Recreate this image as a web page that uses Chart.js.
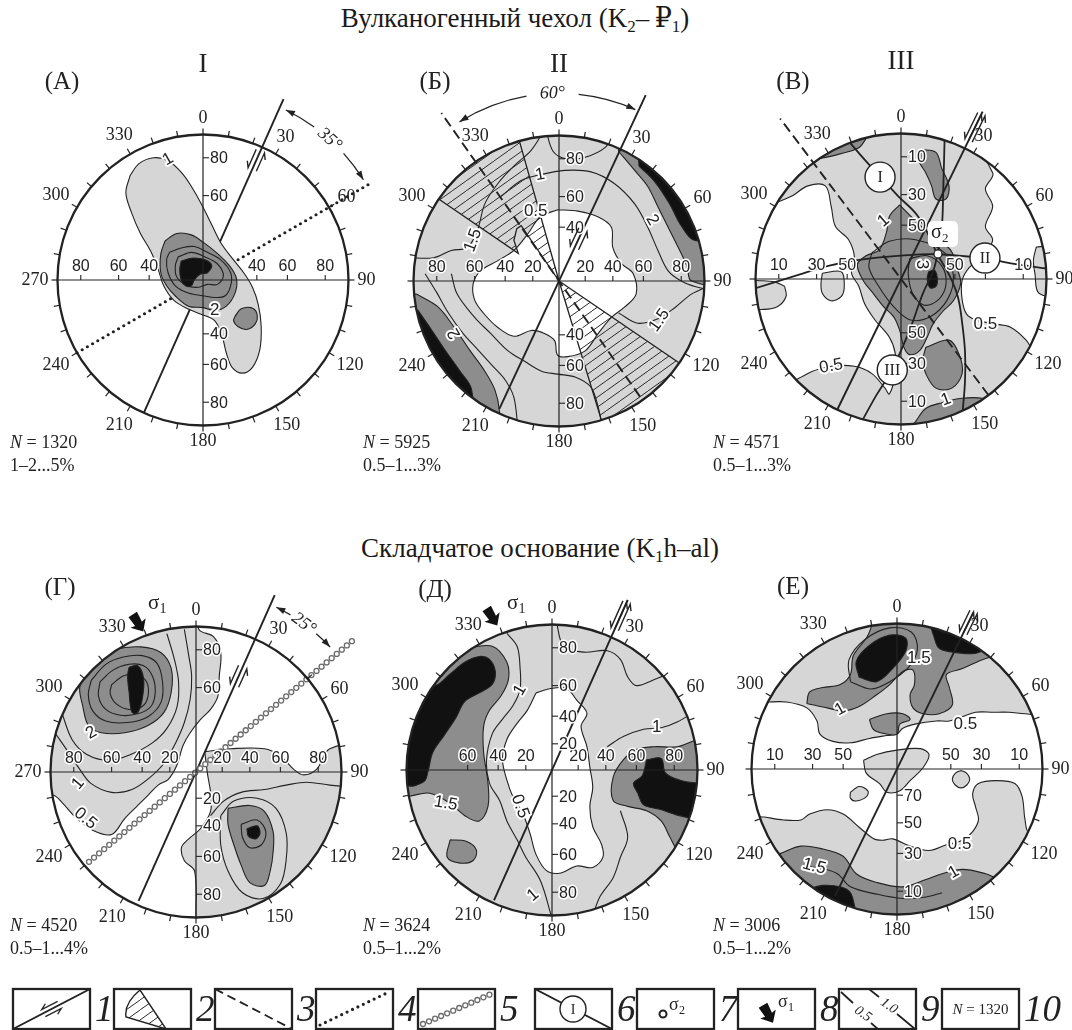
<!DOCTYPE html>
<html lang="ru">
<head>
<meta charset="utf-8">
<title>Стереограммы трещиноватости</title>
<script src="https://cdn.jsdelivr.net/npm/chart.js@4.4.1/dist/chart.umd.min.js"></script>
<style>
  html, body { margin: 0; padding: 0; background: #fff; }
  body { width: 1072px; height: 1030px; position: relative; overflow: hidden;
         font-family: "Liberation Serif", "DejaVu Serif", serif; color: #1a1a1a; }
  .ttl { position: absolute; font-size: 27px; line-height: 32px; white-space: nowrap; transform: translateX(-50%); }
  .ttl sub { font-size: 17px; line-height: 0; vertical-align: -5px; }
  canvas { position: absolute; }
</style>
</head>
<body>
<div class="ttl" style="left:515px; top:2px">Вулканогенный чехол (K<sub>2</sub>–&#8201;₽<sub>1</sub>)</div>
<div class="ttl" style="left:540px; top:532px">Складчатое основание (K<sub>1</sub>h–al)</div>
<canvas id="pA" width="390" height="440" style="left:-2px; top:40px"></canvas>
<canvas id="pB" width="390" height="440" style="left:354px; top:41px"></canvas>
<canvas id="pV" width="390" height="440" style="left:696px; top:39px"></canvas>
<canvas id="pG" width="390" height="440" style="left:-9px; top:532px"></canvas>
<canvas id="pD" width="390" height="440" style="left:347px; top:530px"></canvas>
<canvas id="pE" width="390" height="440" style="left:692px; top:529px"></canvas>
<canvas id="legend" width="1072" height="50" style="left:0; top:980px"></canvas>
<script>
const INK = '#222';
const LIGHT = '#d6d6d6';
const MID = '#8d8d8d';
const DARK = '#111';
const R = 100;          // net radius in data units
const PX = 1.455;       // pixels per data unit

// dip ring positions (percent of radius)
const ringPos = { 10: 84, 20: 18, 30: 58, 40: 37, 50: 37, 60: 58, 70: 18, 80: 84 };

// ─── (А) ─────────────────────────────────────────────────────────────────────
const A_fault = [24, -100, 136];          // azimuth, from, to
const A_dots = [60, -100, 131];
const A_c1 = [[-50,72],[-44,80],[-34,84],[-24,82],[-14,73],[-6,61],[0,50],[6,38],[12,26],[20,15],[28,5],[34,-5],[38,-17],[40,-32],[39,-48],[34,-60],[27,-64],[20,-60],[16,-50],[13,-38],[8,-28],[0,-24],[-10,-20],[-20,-14],[-27,-4],[-31,8],[-36,20],[-43,32],[-49,46],[-53,60]];
const A_c2 = [[-26,27],[-18,32],[-8,31],[0,26],[9,19],[18,10],[23,1],[22,-9],[16,-18],[8,-21],[0,-19],[-10,-18],[-19,-11],[-25,-4],[-29,5],[-29,18]];
const A_c2b = [[22,-25],[26,-20],[33,-19],[37,-23],[36,-30],[30,-34],[24,-32],[21,-28]];
const A_c3 = [[-23,19],[-15,22],[-6,23],[3,19],[12,14],[19,5],[19,-4],[15,-11],[8,-12],[1,-11],[-10,-9],[-19,-4],[-24,5],[-25,14]];
const A_c4 = [[-17,16],[-8,19],[1,16],[10,11],[14,3],[10,-3],[3,-3],[-3,-5],[-11,-4],[-18,2],[-19,10]];
const A_c5 = [[-15,13],[-8,15],[1,14],[6,10],[3,5],[-2,4],[-6,0],[-8,-4],[-12,-4],[-15,0],[-16,7]];

// ─── (Б) ─────────────────────────────────────────────────────────────────────
const B_fault = [25, -97, 141];
const B_dash = [325, -97, 141];
const B_hole = [[-1,49],[13,48],[27,44],[36,37],[37,23],[43,12],[51,5],[53,-9],[45,-18],[36,-25],[27,-36],[18,-48],[6,-52],[-1,-51],[-3,-41],[-10,-36],[-19,-34],[-31,-38],[-42,-32],[-52,-22],[-58,-13],[-59,-2],[-54,7],[-42,14],[-31,21],[-21,33],[-13,44]];
const B_c2a = [[41,89],[52,76],[61,65],[68,51],[75,37],[82,23],[88,10],[91,0],[115,0],[115,120],[41,120]];
const B_c3a = [[55,79],[66,68],[76,53],[84,38],[93,28],[115,30],[115,110],[55,110]];
const B_c2b = [[-98,-9],[-83,-18],[-72,-32],[-61,-48],[-51,-62],[-44,-75],[-41,-89],[-41,-120],[-120,-120],[-120,-9]];
const B_c3b = [[-97,-20],[-88,-33],[-78,-48],[-68,-62],[-60,-75],[-60,-120],[-120,-120],[-120,-20]];
const B_wedgeNW = [[0,0],[-30,106],[-91,62],[-28,19],[-31,28],[-29,36],[-26,38]];
const B_wedgeSE = [[0,0],[91,-62],[32,-105]];
const B_l1 = [[-40,58],[-26,69],[-13,73],[4,76],[22,75],[38,67],[52,53],[61,37],[68,21],[75,7],[84,0],[94,-4],[104,-6]];
const B_l2 = [[41,-22],[54,-29],[68,-26],[80,-18],[91,-9],[104,-3]];
const B_l3 = [[-74,5],[-70,-9],[-58,-25],[-47,-36],[-35,-48],[-24,-55],[-12,-62],[-1,-64],[11,-66],[22,-73],[27,-87],[30,-102]];
const B_l4 = [[-104,16],[-86,16],[-74,21],[-63,23],[-56,35],[-51,53],[-42,67],[-31,79],[-19,90],[-10,104]];
const B_l5 = [[-9,104],[-4,89],[5,84],[18,85],[32,92],[38,102]];
const B_l6 = [[-92,5],[-84,-8],[-76,-22],[-66,-36],[-56,-47],[-46,-58],[-37,-68],[-31,-80],[-28,-104]];

// ─── (В) ─────────────────────────────────────────────────────────────────────
const V_fault = [26, -100, 128];
const V_dash = [323, -100, 138];
const V_c05a = [[-87,52],[-105,60],[-60,112],[30,115],[63,73],[58,62],[63,50],[58,36],[63,27],[58,18],[54,13],[47,8],[42,-1],[42,-14],[45,-24],[51,-28],[65,-31],[75,-33],[86,-42],[93,-52],[112,-60],[60,-112],[-60,-112],[-76,-75],[-64,-65],[-48,-60],[-32,-60],[-20,-65],[-11,-75],[-8,-79],[-4,-65],[-4,-51],[-8,-40],[-18,-28],[-25,-17],[-29,-5],[-34,4],[-32,15],[-36,27],[-45,36],[-48,50],[-52,64],[-64,64],[-75,57]];
const V_c05b = [[-80,-5],[-79,-12],[-85,-19],[-96,-21],[-112,-21],[-112,0],[-99,-1],[-87,-2]];
const V_c05c = [[-54,4],[-41,5],[-39,-5],[-41,-12],[-48,-15],[-54,-10],[-55,-3]];
const V_c05d = [[93,22],[91,13],[92,4],[95,-10],[112,-10],[112,22]];
const V_c1a = [[-1,51],[10,40],[22,29],[34,20],[39,6],[41,-3],[36,-15],[29,-22],[22,-31],[18,-40],[13,-49],[6,-52],[2,-47],[-1,-35],[-5,-26],[-12,-19],[-19,-10],[-26,-1],[-30,10],[-24,16],[-15,20],[-10,32],[-8,43]];
const V_c1b = [[17,-47],[33,-42],[40,-52],[42,-65],[35,-75],[24,-75],[17,-65],[15,-56]];
const V_c1c = [[10,-98],[17,-89],[28,-85],[42,-82],[56,-82],[61,-85],[72,-112],[0,-112]];
const V_c1d = [[14,89],[24,87],[28,76],[33,64],[31,55],[24,55],[21,64],[17,73],[12,82]];
const V_c1e = [[-60,82],[-42,86],[-27,92],[-20,115],[-72,96]];
const V_c3 = [[19,5],[23,6],[25,0],[24,-5],[20,-6],[18,0]];
const V_l1 = [[6,14],[18,16],[28,9],[31,-3],[26,-14],[16,-18],[8,-10],[5,3]];
const V_l2 = [[-20,18],[-8,26],[10,27],[30,18],[36,2],[32,-14],[20,-26],[6,-28],[-6,-18],[-16,-4],[-22,8]];
const V_gcI = [[-37,96],[-25,82],[-14,70],[-2,57],[11,44],[19,30],[25,17],[33,3],[39,-12],[42,-30],[44,-50],[44,-70],[42,-95]];
const V_gcII = [[-102,-7],[-70,3],[-50,9],[-30,13],[0,16],[25,17],[58,14],[80,10],[102,7]];
const V_gcIII = [[-27,-98],[-17,-80],[-6,-62],[6,-35],[15,-10],[22,5],[25,17],[28,35],[29,60],[30,98]];
const V_sigma2 = [25.4, 17.2];

// ─── (Г) ─────────────────────────────────────────────────────────────────────
const G_fault = [24, -97, 133];
const G_beads = [50, -96, 141];
const G_c05a = [[0,115],[2,98],[12,93],[17,82],[16,66],[15,52],[10,43],[3,36],[-4,27],[-9,18],[-13,5],[-19,-5],[-26,-9],[-33,-16],[-40,-23],[-49,-32],[-58,-43],[-71,-40],[-83,-31],[-92,-21],[-98,-16],[-115,-16],[-115,115]];
const G_c05b = [[6,14],[24,16],[47,16],[58,11],[67,2],[74,-2],[83,2],[92,16],[115,16],[115,-115],[0,-115],[0,-98],[-1,-68],[-8,-61],[-10,-52],[-5,-46],[3,-39],[10,-27],[10,-14],[8,-2]];
const G_l1 = [[-97,27],[-88,14],[-80,2],[-72,-8],[-58,-14],[-44,-12],[-32,-4],[-22,6],[-14,20],[-8,34],[-4,50],[-3,66],[-5,80],[-8,98]];
const G_l15 = [[-92,40],[-85,22],[-75,12],[-60,8],[-45,12],[-30,20],[-20,30],[-13,45],[-12,62],[-15,78],[-20,95]];
const G_c2 = [[-78,66],[-69,77],[-56,84],[-38,86],[-24,82],[-17,71],[-17,55],[-22,41],[-33,32],[-49,27],[-65,27],[-74,32],[-78,46],[-80,57]];
const G_l25 = [[-72,63],[-62,74],[-50,79],[-37,80],[-27,75],[-23,62],[-24,48],[-33,38],[-47,34],[-62,35],[-71,42],[-74,53]];
const G_l3 = [[-66,62],[-57,70],[-46,74],[-36,73],[-30,66],[-28,55],[-31,45],[-40,40],[-52,39],[-62,43],[-67,52]];
const G_l35 = [[-58,60],[-50,66],[-41,67],[-34,62],[-33,52],[-37,45],[-46,43],[-55,47],[-59,54]];
const G_c4 = [[-46,72],[-40,73],[-36,64],[-37,50],[-40,41],[-44,41],[-46,55],[-47,66]];
const G_se1 = [[17,-30],[26,-20],[42,-18],[55,-25],[62,-42],[62,-60],[58,-77],[46,-87],[32,-83],[22,-68],[17,-50]];
const G_se2 = [[22,-25],[37,-23],[47,-27],[53,-41],[53,-55],[51,-68],[47,-78],[37,-76],[31,-64],[26,-50],[22,-36]];
const G_se3 = [[31,-36],[42,-33],[48,-41],[45,-50],[37,-52],[32,-45]];
const G_se4 = [[35,-39],[42,-37],[44,-42],[41,-46],[36,-44]];
const G_l1e = [[10,-30],[19,-20],[31,-14],[47,-12],[62,-9],[76,-7],[92,-9],[104,-10]];

// ─── (Д) ─────────────────────────────────────────────────────────────────────
const D_fault = [24, -98, 128];
const D_hole = [[-11,53],[-1,56],[10,56],[17,48],[24,39],[20,30],[24,16],[26,2],[28,-12],[26,-25],[28,-39],[34,-51],[35,-60],[28,-67],[17,-66],[5,-71],[-4,-69],[-11,-58],[-15,-44],[-20,-30],[-27,-18],[-31,-7],[-34,7],[-31,21],[-24,32],[-17,41]];
const D_c1a = [[-57,84],[-41,85],[-31,74],[-30,62],[-35,51],[-43,41],[-47,30],[-47,12],[-44,-9],[-44,-25],[-50,-35],[-59,-32],[-70,-23],[-84,-16],[-98,-18],[-115,-20],[-115,70],[-65,100]];
const D_c2a = [[-100,55],[-80,58],[-70,66],[-60,74],[-50,78],[-43,76],[-39,68],[-41,59],[-50,53],[-60,47],[-66,36],[-74,24],[-82,12],[-85,0],[-88,-8],[-100,-10],[-112,20]];
const D_c1b = [[-70,-48],[-59,-49],[-52,-55],[-54,-62],[-63,-64],[-72,-60]];
const D_c1c = [[97,20],[86,16],[70,16],[58,14],[49,7],[42,-5],[42,-21],[52,-25],[65,-28],[75,-35],[81,-46],[86,-55],[100,-70],[115,0],[110,20]];
const D_c2b = [[65,7],[75,8],[78,-2],[88,-7],[100,-9],[115,-10],[115,-38],[95,-33],[86,-31],[74,-27],[63,-24],[59,-16],[56,-9],[62,-4]];
const D_l1 = [[-31,94],[-24,85],[-22,71],[-22,55],[-27,44],[-34,35],[-41,25],[-45,7],[-43,-9],[-36,-21],[-31,-35],[-24,-48],[-18,-60],[-8,-76],[0,-102]];
const D_l2 = [[3,102],[8,85],[22,81],[38,82],[47,76],[52,64],[58,58],[70,62],[81,67],[92,74]];
const D_l3 = [[38,16],[49,23],[63,28],[75,29],[86,33],[98,40]];
const D_l4 = [[47,-28],[52,-46],[47,-60],[42,-74],[33,-87],[28,-100]];

// ─── (Е) ─────────────────────────────────────────────────────────────────────
const E_fault = [26, -97, 120];
const E_c05a = [[-90,46],[-76,46],[-62,42],[-55,33],[-53,24],[-44,19],[-32,18],[-19,21],[-7,23],[0,24],[4,28],[13,31],[27,33],[36,33],[45,36],[54,39],[66,39],[77,39],[88,38],[115,38],[115,115],[-115,115],[-115,46]];
const E_c05b = [[-23,6],[-14,10],[0,13],[16,14],[22,10],[18,1],[9,-8],[2,-15],[-7,-16],[-12,-10],[-21,-3]];
const E_c05c = [[-32,-16],[-26,-12],[-20,-15],[-21,-19],[-28,-22],[-32,-20]];
const E_c05d = [[44,-1],[48,-3],[50,-7],[48,-11],[44,-13],[40,-11],[38,-7],[40,-3]];
const E_c05e = [[-91,-33],[-78,-35],[-66,-35],[-60,-31],[-48,-28],[-37,-31],[-26,-40],[-16,-48],[-10,-49],[-3,-48],[9,-53],[22,-56],[34,-52],[45,-49],[52,-43],[56,-35],[54,-26],[52,-17],[56,-10],[68,-8],[81,-10],[86,-19],[88,-35],[91,-44],[115,-45],[115,-115],[-115,-115],[-115,-33]];
const E_c1a = [[-62,45],[-60,53],[-51,56],[-39,58],[-32,65],[-30,78],[-21,90],[-8,112],[80,80],[61,76],[45,69],[34,65],[36,56],[38,44],[29,38],[18,38],[11,42],[9,51],[12,58],[11,68],[4,67],[-5,58],[-14,51],[-26,43],[-37,40],[-48,42]];
const E_c1b = [[-19,34],[-7,38],[4,38],[9,34],[2,31],[0,24],[-7,24],[-16,27]];
const E_c1c = [[-80,-58],[-66,-53],[-51,-55],[-37,-60],[-28,-72],[-14,-78],[4,-81],[20,-76],[31,-72],[45,-69],[61,-72],[68,-75],[80,-80],[0,-115],[-90,-70]];
const E_l15a = [[-32,60],[-33,75],[-22,89],[-5,97],[10,94],[14,82],[8,70],[-5,60],[-18,55]];
const E_l15b = [[-66,-67],[-53,-68],[-41,-72],[-32,-81],[-14,-86],[4,-89],[20,-88],[31,-85]];
const E_c2a = [[-26,63],[-28,74],[-19,85],[-5,92],[6,90],[6,81],[-3,69],[-14,60]];
const E_c2b = [[25,92],[29,83],[41,80],[56,80],[72,92],[40,112],[20,112]];
const E_c2c = [[-62,-83],[-51,-80],[-39,-81],[-32,-85],[-28,-98],[-20,-112],[-70,-90]];

// ─── Helpers ─────────────────────────────────────────────────────────────────
function makeHatch() {
  const c = document.createElement('canvas');
  c.width = 14; c.height = 10;
  const g = c.getContext('2d');
  g.strokeStyle = '#2a2a2a'; g.lineWidth = 1;
  g.beginPath(); g.moveTo(-14, 20); g.lineTo(28, -10); g.stroke();
  return g.createPattern(c, 'repeat');
}
const HATCH = makeHatch();

const BASE = { showLine: true, pointRadius: 0, pointHoverRadius: 0, tension: 0.35 };
function P(arr) { return arr.map(p => ({ x: p[0], y: p[1] })); }
function ring(arr) { const d = P(arr); d.push({ x: arr[0][0], y: arr[0][1] }); return d; }
function seg(line) {
  const a = line[0] * Math.PI / 180;
  return [1, 2].map(k => ({ x: line[k] * Math.sin(a), y: line[k] * Math.cos(a) }));
}
function area(arr, color) {
  return { ...BASE, data: ring(arr), fill: 'shape', backgroundColor: color, borderColor: INK, borderWidth: 1.1 };
}
function contour(arr, closed) {
  return { ...BASE, data: closed ? ring(arr) : P(arr), fill: false, borderColor: INK, borderWidth: 1.1 };
}
function trace(arr) {
  return { ...BASE, tension: 0.4, data: P(arr), fill: false, borderColor: INK, borderWidth: 1.8 };
}
function hatched(arr) {
  return { ...BASE, tension: 0, data: ring(arr), fill: 'shape', backgroundColor: HATCH, borderColor: INK, borderWidth: 1.3 };
}
function fault(line, kind) {
  const ds = { ...BASE, tension: 0, data: seg(line), fill: false, noClip: true, borderColor: INK, borderWidth: 1.9 };
  if (kind === 'dash') ds.borderDash = [10, 5];
  if (kind === 'dot') { ds.borderDash = [0, 6]; ds.borderCapStyle = 'round'; ds.borderWidth = 3.2; }
  if (kind === 'beads') { ds.beads = true; ds.borderColor = 'rgba(0,0,0,0)'; }
  return ds;
}

function net(chart) {
  const xs = chart.scales.x, ys = chart.scales.y;
  const cx = xs.getPixelForValue(0), cy = ys.getPixelForValue(0);
  const rp = xs.getPixelForValue(R) - cx;
  const at = (x, y) => [xs.getPixelForValue(x), ys.getPixelForValue(y)];
  const pol = (az, r) => { const a = az * Math.PI / 180; return at(r * Math.sin(a), r * Math.cos(a)); };
  return { cx, cy, rp, at, pol };
}

function txt(ctx, s, x, y, font, o = {}) {
  ctx.save();
  ctx.translate(x, y);
  if (o.rot) ctx.rotate(o.rot * Math.PI / 180);
  ctx.font = font;
  ctx.textAlign = o.align || 'center';
  ctx.textBaseline = o.base || 'middle';
  if (o.halo) { ctx.lineJoin = 'round'; ctx.lineWidth = o.halo; ctx.strokeStyle = '#fff'; ctx.strokeText(s, 0, 0); }
  ctx.fillStyle = o.color || INK;
  ctx.fillText(s, 0, 0);
  ctx.restore();
}

const SERIF = '"Liberation Serif", "DejaVu Serif", serif';
const SANS = '"Liberation Sans", Arial, sans-serif';

// ─── Net frame, rings, labels ────────────────────────────────────────────────
function frame(chart, p) {
  const ctx = chart.ctx, n = net(chart);
  ctx.save();
  ctx.strokeStyle = INK;
  ctx.lineWidth = 1.2;
  ctx.beginPath();
  ctx.moveTo(n.cx - n.rp, n.cy); ctx.lineTo(n.cx + n.rp, n.cy);
  ctx.moveTo(n.cx, n.cy - n.rp); ctx.lineTo(n.cx, n.cy + n.rp);
  ctx.stroke();
  ctx.lineWidth = 2.3;
  ctx.beginPath(); ctx.arc(n.cx, n.cy, n.rp, 0, 2 * Math.PI); ctx.stroke();
  ctx.lineWidth = 1.2;
  for (let az = 0; az < 360; az += 10) {
    const a = az * Math.PI / 180, s = Math.sin(a), c = -Math.cos(a);
    ctx.beginPath();
    ctx.moveTo(n.cx + s * n.rp, n.cy + c * n.rp);
    ctx.lineTo(n.cx + s * (n.rp + 6), n.cy + c * (n.rp + 6));
    ctx.stroke();
  }
  ctx.restore();

  // the left-hand 270 is printed only on the nets of the first column
  const f = '18px ' + SERIF;
  ctx.font = f;
  for (let az = 0; az < 360; az += 30) {
    if (az === 270 && !p.west) continue;
    const s = String(az), w = ctx.measureText(s).width;
    const a = az * Math.PI / 180, sn = Math.sin(a), cs = Math.cos(a);
    const off = n.rp + 9 + Math.abs(sn) * w / 2 + Math.abs(cs) * 7;
    txt(ctx, s, n.cx + sn * off, n.cy - cs * off, f);
  }

  // dip rings along the cross
  const dir = { left: [-1, 0], right: [1, 0], top: [0, 1], bottom: [0, -1] };
  ctx.save(); ctx.strokeStyle = INK; ctx.lineWidth = 1.1;
  for (const side in p.axes) {
    for (const v of p.axes[side]) {
      const r = ringPos[v], [dx, dy] = dir[side], [x, y] = n.at(dx * r, dy * r);
      ctx.beginPath();
      if (dy === 0) { ctx.moveTo(x, y); ctx.lineTo(x, y - 5); ctx.stroke(); txt(ctx, String(v), x, y - 13, '16px ' + SANS, { halo: 3 }); }
      else { ctx.moveTo(x, y); ctx.lineTo(x + 6, y); ctx.stroke(); txt(ctx, String(v), x + 7, y + 1, '16px ' + SANS, { align: 'left', halo: 3 }); }
    }
  }
  ctx.restore();

  for (const [s, x, y, rot] of p.labels) {
    const [px, py] = n.at(x, y);
    txt(ctx, s, px, py, '17px ' + SANS, { rot, halo: 4 });
  }

  txt(ctx, p.letter, n.cx + p.letterAt[0], n.cy + p.letterAt[1], '25px ' + SERIF);
  if (p.roman) txt(ctx, p.roman, n.cx, n.cy + p.romanDy, '27px ' + SERIF);
  const fx = n.cx + p.footAt[0], fy = n.cy + p.footAt[1];
  ctx.font = 'italic 18px ' + SERIF;
  const wN = ctx.measureText('N').width;
  txt(ctx, 'N', fx, fy, 'italic 18px ' + SERIF, { align: 'left', base: 'alphabetic' });
  txt(ctx, ' = ' + p.n, fx + wN, fy, '18px ' + SERIF, { align: 'left', base: 'alphabetic' });
  txt(ctx, p.pct, fx, fy + 23, '18px ' + SERIF, { align: 'left', base: 'alphabetic' });
}

// ─── Symbols ─────────────────────────────────────────────────────────────────
function tip(ctx, n, rr, az, d) {
  const a = az * Math.PI / 180;
  const tx = n.cx + rr * Math.sin(a), ty = n.cy - rr * Math.cos(a);
  const ux = Math.cos(a) * d, uy = Math.sin(a) * d;
  const bx = tx - ux * 9, by = ty - uy * 9;
  ctx.beginPath(); ctx.moveTo(tx, ty);
  ctx.lineTo(bx - uy * 3.2, by + ux * 3.2); ctx.lineTo(bx + uy * 3.2, by - ux * 3.2);
  ctx.closePath(); ctx.fill();
}

function arcArrow(ch, r, a1, a2, g1, g2, label, la) {
  const ctx = ch.ctx, n = net(ch), rr = n.rp * r / R, rad = d => (d - 90) * Math.PI / 180;
  ctx.save(); ctx.strokeStyle = INK; ctx.fillStyle = INK; ctx.lineWidth = 1.3;
  ctx.beginPath(); ctx.arc(n.cx, n.cy, rr, rad(a1), rad(g1)); ctx.stroke();
  ctx.beginPath(); ctx.arc(n.cx, n.cy, rr, rad(g2), rad(a2)); ctx.stroke();
  tip(ctx, n, rr, a1, -1); tip(ctx, n, rr, a2, 1);
  ctx.restore();
  const [x, y] = n.pol(la, r);
  txt(ctx, label, x, y, 'italic 18px ' + SERIF, { rot: la });
}

function halfArrow(ctx, x, y, ux, uy, nx, ny, len, d, s) {
  const tx = x + ux * len / 2 * d, ty = y + uy * len / 2 * d;
  ctx.beginPath();
  ctx.moveTo(x - ux * len / 2 * d, y - uy * len / 2 * d); ctx.lineTo(tx, ty);
  ctx.lineTo(tx - ux * 6 * d + nx * 3.5 * s, ty - uy * 6 * d + ny * 3.5 * s);
  ctx.stroke();
}

function shear(ch, az, r) {
  const ctx = ch.ctx, n = net(ch), [x, y] = n.pol(az, r), a = az * Math.PI / 180;
  const ux = Math.sin(a), uy = -Math.cos(a), nx = -uy, ny = ux;
  ctx.save(); ctx.strokeStyle = INK; ctx.lineWidth = 1.4;
  halfArrow(ctx, x - nx * 4.5, y - ny * 4.5, ux, uy, nx, ny, 20, -1, -1);
  halfArrow(ctx, x + nx * 4.5, y + ny * 4.5, ux, uy, nx, ny, 20, 1, 1);
  ctx.restore();
}

function triple(ch, az, r1, r2) {
  const ctx = ch.ctx, n = net(ch), a = az * Math.PI / 180;
  const [x1, y1] = n.pol(az, r1), [x2, y2] = n.pol(az, r2);
  const mx = (x1 + x2) / 2, my = (y1 + y2) / 2, len = Math.hypot(x2 - x1, y2 - y1);
  const ux = Math.sin(a), uy = -Math.cos(a), nx = -uy, ny = ux;
  ctx.save(); ctx.strokeStyle = INK; ctx.lineWidth = 1.4;
  halfArrow(ctx, mx - nx * 4, my - ny * 4, ux, uy, nx, ny, len, -1, -1);
  halfArrow(ctx, mx, my, ux, uy, nx, ny, len, 1, 1);
  halfArrow(ctx, mx + nx * 4, my + ny * 4, ux, uy, nx, ny, len, 1, 1);
  ctx.restore();
}

function blockArrow(ctx, x, y, ang) {
  ctx.save(); ctx.translate(x, y); ctx.rotate(ang * Math.PI / 180); ctx.fillStyle = DARK;
  ctx.beginPath();
  ctx.moveTo(10, 0); ctx.lineTo(0, -9); ctx.lineTo(1, -4); ctx.lineTo(-10, -5);
  ctx.lineTo(-10, 5); ctx.lineTo(1, 4); ctx.lineTo(0, 9); ctx.closePath(); ctx.fill();
  ctx.restore();
}

function sigma(ctx, x, y, k, size = 21) {
  txt(ctx, 'σ', x, y, size + 'px ' + SERIF, { align: 'left' });
  txt(ctx, k, x + size * 0.55, y + size * 0.3, Math.round(size * 0.65) + 'px ' + SERIF, { align: 'left' });
}

function sigma1(ch, ax, ay, lx, ly) {
  const n = net(ch);
  blockArrow(ch.ctx, n.cx + ax, n.cy + ay, 58);
  sigma(ch.ctx, n.cx + lx, n.cy + ly, '1');
}

function marker(ch, x, y, s) {
  const ctx = ch.ctx, [px, py] = net(ch).at(x, y);
  ctx.save(); ctx.fillStyle = '#fff'; ctx.strokeStyle = INK; ctx.lineWidth = 1.4;
  ctx.beginPath(); ctx.arc(px, py, 15, 0, 2 * Math.PI); ctx.fill(); ctx.stroke(); ctx.restore();
  txt(ctx, s, px, py + 1, '16px ' + SERIF);
}

function sigma2(ch, pt) {
  const ctx = ch.ctx, [px, py] = net(ch).at(pt[0], pt[1]);
  ctx.save(); ctx.fillStyle = '#fff';
  ctx.beginPath(); ctx.roundRect(px - 10, py - 33, 30, 26, 5); ctx.fill();
  ctx.strokeStyle = INK; ctx.lineWidth = 1.3;
  ctx.beginPath(); ctx.arc(px, py, 4, 0, 2 * Math.PI); ctx.fill(); ctx.stroke();
  ctx.restore();
  sigma(ctx, px - 7, py - 21, '2', 20);
}

function beads(chart, idx) {
  const ctx = chart.ctx, pts = chart.getDatasetMeta(idx).data;
  const a = pts[0], b = pts[1], len = Math.hypot(b.x - a.x, b.y - a.y);
  ctx.save(); ctx.strokeStyle = '#6a6a6a'; ctx.fillStyle = '#fff'; ctx.lineWidth = 1.3;
  for (let t = 0; t <= len; t += 6.6) {
    ctx.beginPath();
    ctx.arc(a.x + (b.x - a.x) * t / len, a.y + (b.y - a.y) * t / len, 2.5, 0, 2 * Math.PI);
    ctx.fill(); ctx.stroke();
  }
  ctx.restore();
}

// ─── Panels ──────────────────────────────────────────────────────────────────
const panels = [
  { id: 'pA', letter: '(А)', roman: 'I', n: '1320', pct: '1–2...5%', west: true,
    letterAt: [-141, -198], romanDy: -215, footAt: [-193, 168],
    axes: { left: [80, 60, 40], right: [40, 60, 80], top: [80, 60], bottom: [40, 60, 80] },
    layers: () => [fault(A_fault), fault(A_dots, 'dot'), area(A_c1, LIGHT), area(A_c2, MID), area(A_c2b, MID),
                   area(A_c3, MID), area(A_c4, MID), area(A_c5, DARK)],
    labels: [['1', -24, 83, -30], ['2', 8, -21, 0]],
    deco(ch) { shear(ch, 24, 90); arcArrow(ch, 130, 26, 58, 36, 48, '35°', 42); } },
  { id: 'pB', letter: '(Б)', roman: 'II', n: '5925', pct: '0.5–1...3%', base: LIGHT,
    letterAt: [-124, -199], romanDy: -216, footAt: [-196, 167],
    axes: { left: [80, 60, 40, 20], right: [20, 40, 60, 80], top: [80, 60, 40], bottom: [40, 60, 80] },
    layers: () => [area(B_hole, '#fff'), area(B_c2a, MID), area(B_c3a, DARK), area(B_c2b, MID), area(B_c3b, DARK),
                   contour(B_l1), contour(B_l2), contour(B_l3), contour(B_l4), contour(B_l5), contour(B_l6),
                   hatched(B_wedgeNW), hatched(B_wedgeSE), fault(B_fault), fault(B_dash, 'dash')],
    labels: [['1', -13, 73, -10], ['0.5', -16, 48, 0], ['1.5', -59, 28, -70], ['2', 64, 42, 60],
             ['2', -72, -36, -120], ['1.5', 69, -27, -55]],
    deco(ch) { shear(ch, 25, 32); arcArrow(ch, 129, -32, 24, -10, 6, '60°', -2); } },
  { id: 'pV', letter: '(В)', roman: 'III', n: '4571', pct: '0.5–1...3%',
    letterAt: [-108, -197], romanDy: -217, footAt: [-188, 169],
    axes: { left: [10, 30, 50], right: [50, 30, 10], top: [10, 30, 50], bottom: [50, 30, 10] },
    layers: () => [area(V_c05a, LIGHT), area(V_c05b, LIGHT), area(V_c05c, LIGHT), area(V_c05d, LIGHT),
                   area(V_c1a, MID), area(V_c1b, MID), area(V_c1c, MID), area(V_c1d, MID), area(V_c1e, MID),
                   contour(V_l2, true), contour(V_l1, true), area(V_c3, DARK),
                   trace(V_gcI), trace(V_gcII), trace(V_gcIII), fault(V_fault), fault(V_dash, 'dash')],
    labels: [['1', -12, 40, -40], ['3', 14.5, 10, 90], ['0.5', 58, -31, 0], ['0.5', -48, -60, -10], ['1', 31, -83, -20]],
    deco(ch) {
      triple(ch, 26, 106, 126);
      marker(ch, -14.4, 70, 'I'); marker(ch, 57.7, 14.4, 'II'); marker(ch, -6, -62.5, 'III');
      sigma2(ch, V_sigma2);
    } },
  { id: 'pG', letter: '(Г)', n: '4520', pct: '0.5–1...4%', west: true,
    letterAt: [-136, -184], footAt: [-186, 159],
    axes: { left: [80, 60, 40, 20], right: [20, 40, 60, 80], top: [80, 60], bottom: [20, 40, 60, 80] },
    layers: () => [area(G_c05a, LIGHT), area(G_c05b, LIGHT), contour(G_l1), contour(G_l15), area(G_c2, MID),
                   contour(G_l25, true), contour(G_l3, true), contour(G_l35, true), area(G_c4, DARK),
                   contour(G_se1, true), contour(G_l1e), area(G_se2, MID), contour(G_se3, true), area(G_se4, DARK),
                   fault(G_fault), fault(G_beads, 'beads')],
    labels: [['2', -72, 27, -30], ['1', -81, -8, -50], ['0.5', -76, -32, 40]],
    deco(ch) { shear(ch, 24, 72); arcArrow(ch, 126, 26, 47, 31, 41, '25°', 36); sigma1(ch, -58, -149, -48, -169); } },
  { id: 'pD', letter: '(Д)', n: '3624', pct: '0.5–1...2%', base: LIGHT,
    letterAt: [-117, -180], footAt: [-189, 161],
    axes: { left: [60, 40, 20], right: [20, 40, 60, 80], top: [80, 60, 40, 20], bottom: [20, 40, 60, 80] },
    layers: () => [area(D_hole, '#fff'), area(D_c1a, MID), area(D_c2a, DARK), area(D_c1b, MID), area(D_c1c, MID),
                   area(D_c2b, DARK), contour(D_l1), contour(D_l2), contour(D_l3), contour(D_l4), fault(D_fault)],
    labels: [['1', -22, 55, -60], ['1.5', -73, -23, 10], ['0.5', -22, -25, 70], ['1', 72, 29, 0], ['1', -13, -86, -40]],
    deco(ch) { triple(ch, 24, 106, 126); sigma1(ch, -60, -153, -45, -167); } },
  { id: 'pE', letter: '(Е)', n: '3006', pct: '0.5–1...2%',
    letterAt: [-104, -182], footAt: [-184, 162],
    axes: { left: [10, 30, 50], right: [50, 30, 10], bottom: [70, 50, 30, 10] },
    layers: () => [area(E_c05a, LIGHT), area(E_c05b, LIGHT), area(E_c05c, LIGHT), area(E_c05d, LIGHT), area(E_c05e, LIGHT),
                   area(E_c1a, MID), area(E_c1b, MID), area(E_c1c, MID), contour(E_l15a, true),
                   area(E_c2a, DARK), area(E_c2b, DARK), area(E_c2c, DARK), contour(E_l15b), fault(E_fault)],
    labels: [['1.5', 15, 76, 0], ['1', -39, 41, -30], ['0.5', 47, 31, 0], ['0.5', 43, -52, 0], ['1', 39, -71, -30], ['1.5', -57, -67, 15]],
    deco(ch) { triple(ch, 26, 104, 120); } },
];

function stereo(p) {
  const clip = chart => {
    const n = net(chart), ctx = chart.ctx;
    ctx.save(); ctx.beginPath(); ctx.arc(n.cx, n.cy, n.rp, 0, 2 * Math.PI); ctx.clip();
  };
  return {
    id: 'stereo',
    beforeDatasetsDraw(chart) {
      const n = net(chart), ctx = chart.ctx;
      if (p.base) { ctx.fillStyle = p.base; ctx.beginPath(); ctx.arc(n.cx, n.cy, n.rp, 0, 2 * Math.PI); ctx.fill(); }
      clip(chart);
    },
    beforeDatasetDraw(chart, args) {
      if (chart.data.datasets[args.index].noClip) chart.ctx.restore();
    },
    afterDatasetDraw(chart, args) {
      const ds = chart.data.datasets[args.index];
      if (ds.beads) beads(chart, args.index);
      if (ds.noClip) clip(chart);
    },
    afterDatasetsDraw(chart) {
      chart.ctx.restore();
      frame(chart, p);
      p.deco(chart);
    },
  };
}

panels.forEach(p => {
  const cv = document.getElementById(p.id);
  const list = p.layers();
  const datasets = list.map((d, i) => ({ ...d, order: list.length - i }));
  new Chart(cv, {
    type: 'scatter',
    data: { datasets },
    options: {
      responsive: false, animation: false, events: [],
      layout: { padding: 0 },
      plugins: { legend: { display: false }, tooltip: { enabled: false } },
      scales: {
        x: { type: 'linear', display: false, min: -205 / PX, max: 185 / PX },
        y: { type: 'linear', display: false, min: -200 / PX, max: 240 / PX },
      },
    },
    plugins: [stereo(p)],
  });
});

// ─── Legend ──────────────────────────────────────────────────────────────────
function drawKey(ctx) {
  const xs = [13, 114, 215, 316, 418, 535, 637, 738, 839, 942], y0 = 9, w = 77, h = 40;
  const line = (x1, y1, x2, y2, dash, width = 1.8, cap = 'butt') => {
    ctx.save(); ctx.strokeStyle = INK; ctx.lineWidth = width; ctx.lineCap = cap; ctx.setLineDash(dash || []);
    ctx.beginPath(); ctx.moveTo(x1, y1); ctx.lineTo(x2, y2); ctx.stroke(); ctx.restore();
  };
  xs.forEach((x0, i) => {
    ctx.save(); ctx.beginPath(); ctx.rect(x0, y0, w, h); ctx.clip();
    if (i === 0) {
      line(x0, y0 + h, x0 + w, y0);
      const ux = w / Math.hypot(w, h), uy = -h / Math.hypot(w, h), nx = -uy, ny = ux;
      ctx.strokeStyle = INK; ctx.lineWidth = 1.3;
      halfArrow(ctx, x0 + w / 2 - nx * 4, y0 + h / 2 - ny * 4, ux, uy, nx, ny, 18, -1, -1);
      halfArrow(ctx, x0 + w / 2 + nx * 4, y0 + h / 2 + ny * 4, ux, uy, nx, ny, 18, 1, 1);
    } else if (i === 1) {
      ctx.beginPath(); ctx.moveTo(x0 + 52, y0 + h); ctx.lineTo(x0 + 26, y0 + 1);
      ctx.quadraticCurveTo(x0 + 10, y0 + 14, x0 + 12, y0 + 28); ctx.closePath();
      ctx.fillStyle = HATCH; ctx.fill(); ctx.strokeStyle = INK; ctx.lineWidth = 1.4; ctx.stroke();
    } else if (i === 2) {
      line(x0, y0, x0 + w, y0 + h, [9, 5]);
    } else if (i === 3) {
      line(x0 + 4, y0 + h - 4, x0 + w - 4, y0 + 3, [0, 6], 3.2, 'round');
    } else if (i === 4) {
      const ax = x0 + 5, ay = y0 + h - 5, bx = x0 + w - 4, by = y0 + 5, len = Math.hypot(bx - ax, by - ay);
      ctx.strokeStyle = '#6a6a6a'; ctx.fillStyle = '#fff'; ctx.lineWidth = 1.3;
      for (let t = 0; t <= len; t += 6.6) {
        ctx.beginPath(); ctx.arc(ax + (bx - ax) * t / len, ay + (by - ay) * t / len, 2.5, 0, 2 * Math.PI); ctx.fill(); ctx.stroke();
      }
    } else if (i === 5) {
      line(x0, y0, x0 + w, y0 + h);
      ctx.fillStyle = '#fff'; ctx.strokeStyle = INK; ctx.lineWidth = 1.4;
      ctx.beginPath(); ctx.arc(x0 + 38, y0 + 20, 13, 0, 2 * Math.PI); ctx.fill(); ctx.stroke();
      txt(ctx, 'I', x0 + 38, y0 + 21, '14px ' + SERIF);
    } else if (i === 6) {
      ctx.strokeStyle = INK; ctx.lineWidth = 2;
      ctx.beginPath(); ctx.arc(x0 + 26, y0 + 25, 3.5, 0, 2 * Math.PI); ctx.stroke();
      sigma(ctx, x0 + 32, y0 + 16, '2', 18);
    } else if (i === 7) {
      blockArrow(ctx, x0 + 30, y0 + 25, 60);
      sigma(ctx, x0 + 40, y0 + 13, '1', 18);
    } else if (i === 8) {
      line(x0 + 2, y0 + 3, x0 + 14, y0 + 14);
      txt(ctx, '0.5', x0 + 24, y0 + 25, 'italic 14px ' + SERIF, { rot: 35 });
      line(x0 + 32, y0 + 34, x0 + 40, y0 + 41);
      line(x0 + 30, y0, x0 + 40, y0 + 8);
      txt(ctx, '1.0', x0 + 50, y0 + 17, 'italic 14px ' + SERIF, { rot: 35 });
      line(x0 + 58, y0 + 25, x0 + 76, y0 + 40);
    } else {
      ctx.font = 'italic 15px ' + SERIF;
      const wn = ctx.measureText('N').width;
      ctx.font = '15px ' + SERIF;
      const wr = ctx.measureText(' = 1320').width;
      const sx = x0 + (w - wn - wr) / 2;
      txt(ctx, 'N', sx, y0 + 21, 'italic 15px ' + SERIF, { align: 'left' });
      txt(ctx, ' = 1320', sx + wn, y0 + 21, '15px ' + SERIF, { align: 'left' });
    }
    ctx.restore();
    ctx.save(); ctx.lineWidth = 2.3; ctx.strokeStyle = INK; ctx.strokeRect(x0, y0, w, h); ctx.restore();
    txt(ctx, String(i + 1), x0 + w + 5, y0 + h / 2 + 2, 'italic 37px ' + SERIF, { align: 'left' });
  });
}

new Chart(document.getElementById('legend'), {
  type: 'scatter',
  data: { datasets: [] },
  options: {
    responsive: false, animation: false, events: [],
    plugins: { legend: { display: false }, tooltip: { enabled: false } },
    scales: { x: { display: false }, y: { display: false } },
  },
  plugins: [{ id: 'key', afterDraw(ch) { drawKey(ch.ctx); } }],
});
</script>
</body>
</html>
